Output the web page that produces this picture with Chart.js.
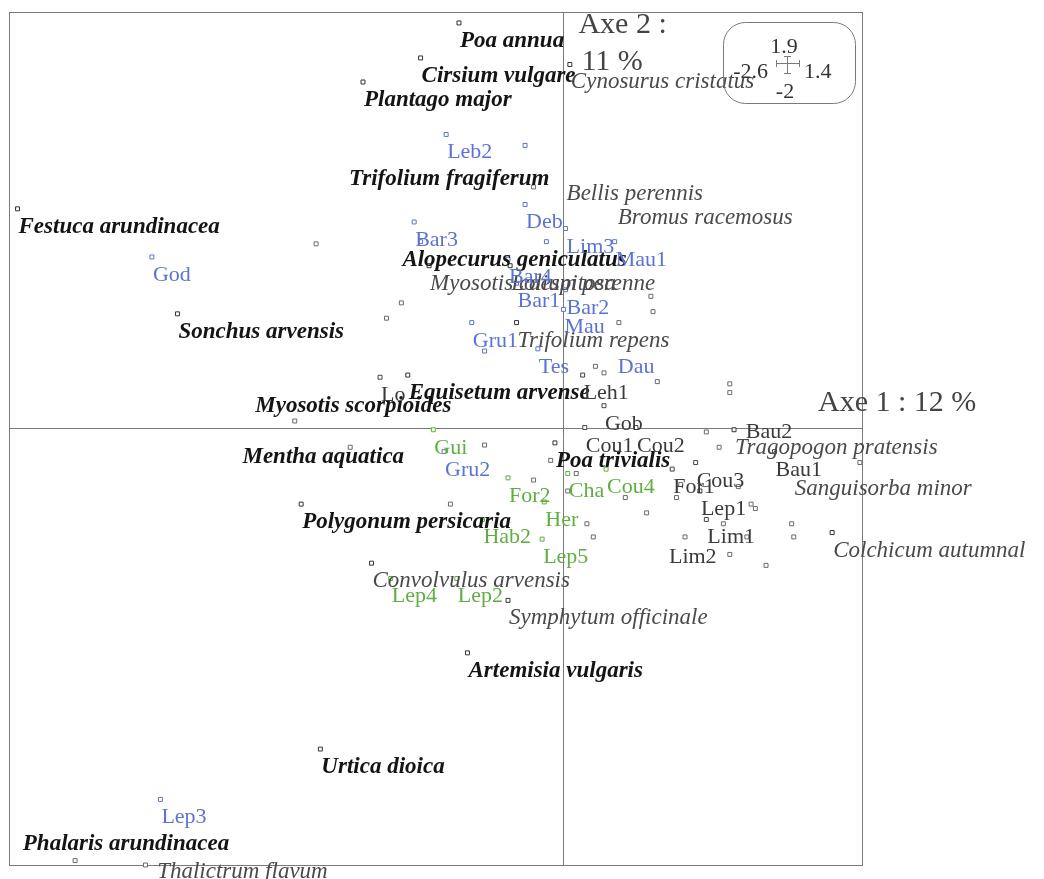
<!DOCTYPE html>
<html lang="fr">
<head>
  <meta charset="UTF-8">
  <title>AFC - espèces et relevés</title>
  <script src="https://cdn.jsdelivr.net/npm/chart.js"></script>
  <style>
    html, body { margin: 0; padding: 0; background: #fff; }
    .chart-container { position: relative; width: 1044px; height: 879px; }
  </style>
</head>
<body>
  <div class="chart-container">
    <canvas id="afcChart" width="1044" height="879"></canvas>
  </div>

  <script>
    // axis ranges (shown in the little box top right)
    const xRange = [-2.6, 1.4];
    const yRange = [-2, 1.9];
    const axisTitles = ['Axe 1 : 12 %', 'Axe 2 :', '11 %'];

    // species
    const speciesNames = ['Poa annua', 'Cirsium vulgare', 'Plantago major', 'Cynosurus cristatus', 'Trifolium fragiferum',
      'Bellis perennis', 'Bromus racemosus', 'Festuca arundinacea', 'Alopecurus geniculatus', 'Myosotis caespitosa',
      'Lolium perenne', 'Sonchus arvensis', 'Trifolium repens', 'Equisetum arvense', 'Myosotis scorpioides',
      'Mentha aquatica', 'Poa trivialis', 'Polygonum persicaria', 'Convolvulus arvensis', 'Symphytum officinale',
      'Artemisia vulgaris', 'Urtica dioica', 'Phalaris arundinacea', 'Thalictrum flavum', 'Tragopogon pratensis',
      'Sanguisorba minor', 'Colchicum autumnal'];
    const speciesX = [-0.49, -0.67, -0.94, 0.03, -1.01, 0.01, 0.25, -2.56, -0.76, -0.63,
      -0.25, -1.81, -0.22, -0.73, -1.45, -1.51, -0.04, -1.23, -0.90, -0.26,
      -0.45, -1.14, -2.54, -1.91, 0.80, 1.08, 1.26];
    const speciesY = [1.85, 1.69, 1.58, 1.66, 1.22, 1.15, 1.04, 1.00, 0.85, 0.74,
      0.74, 0.52, 0.48, 0.24, 0.18, -0.05, -0.07, -0.35, -0.62, -0.79,
      -1.03, -1.47, -1.82, -1.95, -0.01, -0.20, -0.48];

    // relevés (sites), by group
    const blueSites = ['Leb2', 'Bar3', 'Deb', 'Lim3', 'Mau1', 'Bar4', 'Bar1', 'Bar2', 'Mau', 'Gru1', 'Tes', 'Dau', 'God', 'Gru2', 'Lep3'];
    const blueX = [-0.55, -0.70, -0.18, 0.01, 0.24, -0.26, -0.22, 0.01, 0.00, -0.43, -0.12, 0.25, -1.93, -0.56, -1.89];
    const blueY = [1.34, 0.94, 1.02, 0.91, 0.85, 0.77, 0.66, 0.63, 0.54, 0.48, 0.36, 0.36, 0.78, -0.11, -1.70];

    const greenSites = ['Gui', 'For2', 'Cha', 'Cou4', 'Her', 'Hab2', 'Lep5', 'Lep4', 'Lep2'];
    const greenX = [-0.61, -0.26, 0.02, 0.20, -0.09, -0.38, -0.10, -0.81, -0.50];
    const greenY = [-0.01, -0.23, -0.21, -0.19, -0.34, -0.42, -0.51, -0.69, -0.69];

    const darkSites = ['Leh1', 'Gob', 'Cou1', 'Cou2', 'For1', 'Cou3', 'Lep1', 'Lim1', 'Lim2', 'Bau2', 'Bau1', 'Lo'];
    const darkX = [0.09, 0.19, 0.10, 0.34, 0.51, 0.62, 0.64, 0.67, 0.49, 0.85, 0.99, -0.86];
    const darkY = [0.24, 0.10, 0.00, 0.00, -0.19, -0.16, -0.29, -0.42, -0.51, 0.06, -0.11, 0.23];

    // unlabelled points
    const extraBlueX = [-0.18, -0.08, -0.67, -0.37];
    const extraBlueY = [1.29, 0.85, 0.85, 0.35];
    const otherX = [-1.16, -0.14, -1.26, -1.00, -0.76, -0.83, 0.41, 0.42, 0.26, 0.15, 0.19, 0.44, 0.78, 0.78,
      -0.37, -0.06, -0.14, -0.53, 0.06, 0.02, 0.29, 0.39, 0.53, 0.55, 0.57, 0.11, 0.14, 0.67, 0.73,
      0.82, 0.88, 0.90, 0.75, 0.86, 0.78, 0.95, 1.07, 1.08, 1.39, -2.29, -1.96];
    const otherY = [0.84, 1.10, 0.03, -0.09, 0.57, 0.50, 0.60, 0.53, 0.48, 0.28, 0.25, 0.21, 0.20, 0.16,
      -0.08, -0.15, -0.24, -0.35, -0.21, -0.29, -0.32, -0.39, -0.32, -0.26, -0.50, -0.44, -0.50, -0.02, -0.09,
      -0.27, -0.35, -0.37, -0.44, -0.50, -0.58, -0.63, -0.44, -0.50, -0.16, -1.98, -2.00];

    // styling lookups
    const greySpecies = ['Cynosurus cristatus', 'Bellis perennis', 'Bromus racemosus', 'Myosotis caespitosa', 'Lolium perenne',
      'Trifolium repens', 'Thalictrum flavum', 'Tragopogon pratensis', 'Sanguisorba minor', 'Colchicum autumnal',
      'Convolvulus arvensis', 'Symphytum officinale'];
    // labels whose square is hidden in the original
    const noSquare = ['Trifolium fragiferum', 'Bellis perennis', 'Bromus racemosus', 'Alopecurus geniculatus',
      'Myosotis scorpioides', 'Mentha aquatica', 'Phalaris arundinacea', 'Thalictrum flavum', 'Sanguisorba minor',
      'Dau', 'Bau2', 'Lim2'];

    const SERIF = '"Liberation Serif", "Times New Roman", serif';

    function toPoints(xs, ys) {
      return xs.map((x, i) => ({ x: x, y: ys[i] }));
    }

    function pointSet(label, xs, ys, color, names, textStyle) {
      return {
        label: label,
        data: toPoints(xs, ys),
        names: names,
        textStyle: textStyle,
        pointStyle: 'rect',
        pointRadius: function (c) {
          if (names && noSquare.includes(names[c.dataIndex])) return 0;
          return 2.8;
        },
        borderWidth: 1,
        borderColor: color,
        backgroundColor: '#fff',
        clip: false
      };
    }

    // frame, axes through the origin
    const framePlugin = {
      id: 'frame',
      beforeDatasetsDraw(chart) {
        const { ctx, chartArea: a, scales } = chart;
        const x0 = Math.round(scales.x.getPixelForValue(0)) + 0.5;
        const y0 = Math.round(scales.y.getPixelForValue(0)) + 0.5;
        ctx.save();
        ctx.strokeStyle = '#7a7a7a';
        ctx.lineWidth = 1;
        ctx.strokeRect(Math.round(a.left) + 0.5, Math.round(a.top) + 0.5,
          Math.round(a.right - a.left), Math.round(a.bottom - a.top));
        ctx.beginPath();
        ctx.moveTo(a.left, y0); ctx.lineTo(a.right, y0);
        ctx.moveTo(x0, a.top); ctx.lineTo(x0, a.bottom);
        ctx.stroke();
        ctx.restore();
      }
    };

    // point names + axis titles + range box
    const labelPlugin = {
      id: 'labels',
      afterDatasetsDraw(chart) {
        const { ctx, chartArea: a, scales } = chart;
        ctx.save();
        ctx.textAlign = 'left';
        ctx.textBaseline = 'alphabetic';
        chart.data.datasets.forEach((ds, di) => {
          if (!ds.names) return;
          const meta = chart.getDatasetMeta(di);
          meta.data.forEach((pt, i) => {
            const name = ds.names[i];
            if (ds.textStyle === 'species') {
              const grey = greySpecies.includes(name);
              ctx.font = (grey ? 'italic ' : 'italic bold ') + '23px ' + SERIF;
              ctx.fillStyle = grey ? '#4a4a4a' : '#141414';
            } else {
              ctx.font = '22px ' + SERIF;
              ctx.fillStyle = ds.textStyle;
            }
            ctx.fillText(name, pt.x + 1, pt.y + 24);
          });
        });

        const x0 = scales.x.getPixelForValue(0);
        const y0 = scales.y.getPixelForValue(0);
        ctx.font = '30px ' + SERIF;
        ctx.fillStyle = '#444';
        ctx.fillText(axisTitles[1], x0 + 15, a.top + 21);
        ctx.fillText(axisTitles[2], x0 + 18, a.top + 58);
        ctx.fillText(axisTitles[0], a.right - 44, y0 - 17);

        // range box
        const bx = a.right - 139, by = a.top + 10, bw = 132, bh = 81, r = 22;
        ctx.strokeStyle = '#7a7a7a';
        ctx.lineWidth = 1;
        ctx.beginPath();
        ctx.roundRect(bx + 0.5, by + 0.5, bw, bh, r);
        ctx.stroke();
        const cx = bx + 64, cy = by + 41;
        ctx.beginPath();
        ctx.moveTo(cx - 11, cy + 0.5); ctx.lineTo(cx + 12, cy + 0.5);
        ctx.moveTo(cx - 11 + 0.5, cy - 3); ctx.lineTo(cx - 11 + 0.5, cy + 4);
        ctx.moveTo(cx + 12 + 0.5, cy - 3); ctx.lineTo(cx + 12 + 0.5, cy + 4);
        ctx.moveTo(cx + 0.5, cy - 7); ctx.lineTo(cx + 0.5, cy + 10);
        ctx.moveTo(cx - 3, cy - 7 + 0.5); ctx.lineTo(cx + 4, cy - 7 + 0.5);
        ctx.moveTo(cx - 3, cy + 10 + 0.5); ctx.lineTo(cx + 4, cy + 10 + 0.5);
        ctx.stroke();
        ctx.font = '22px ' + SERIF;
        ctx.fillStyle = '#333';
        ctx.textAlign = 'center';
        ctx.fillText(String(yRange[1]), cx - 3, by + 31);
        ctx.fillText(String(yRange[0]), cx - 2, by + 76);
        ctx.textAlign = 'right';
        ctx.fillText(String(xRange[0]), cx - 19, by + 56);
        ctx.textAlign = 'left';
        ctx.fillText(String(xRange[1]), cx + 17, by + 56);
        ctx.restore();
      }
    };

    const ctx = document.getElementById('afcChart').getContext('2d');
    new Chart(ctx, {
      type: 'scatter',
      data: {
        datasets: [
          pointSet('autres', otherX, otherY, '#6a6a6a', null, null),
          pointSet('autres relevés', extraBlueX, extraBlueY, '#5b73d6', null, null),
          pointSet('espèces', speciesX, speciesY, '#333', speciesNames, 'species'),
          pointSet('relevés 1', blueX, blueY, '#5b73d6', blueSites, '#5b73d6'),
          pointSet('relevés 2', greenX, greenY, '#5fae40', greenSites, '#5fae40'),
          pointSet('relevés 3', darkX, darkY, '#444', darkSites, '#3a3a3a')
        ]
      },
      options: {
        responsive: false,
        animation: false,
        layout: { padding: { left: 9, top: 12, right: 182, bottom: 14 } },
        plugins: {
          legend: { display: false },
          tooltip: { enabled: false }
        },
        scales: {
          x: { type: 'linear', min: xRange[0], max: xRange[1], display: false },
          y: { type: 'linear', min: yRange[0], max: yRange[1], display: false }
        }
      },
      plugins: [framePlugin, labelPlugin]
    });
  </script>
</body>
</html>
